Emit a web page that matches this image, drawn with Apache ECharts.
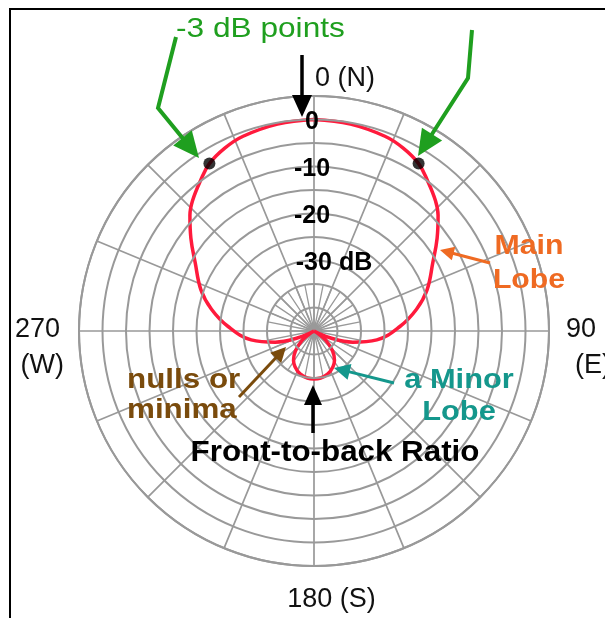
<!DOCTYPE html>
<html>
<head>
<meta charset="utf-8">
<script src="https://cdn.jsdelivr.net/npm/echarts@6/dist/echarts.min.js"></script>
<style>
  html, body { margin: 0; padding: 0; background: #fff; }
  #wrap { position: relative; width: 605px; height: 618px; overflow: hidden; }
  #chart { width: 605px; height: 618px; }
  #frame { position: absolute; left: 9px; top: 8px; width: 700px; height: 700px;
           border-left: 2px solid #000; border-top: 2px solid #000; pointer-events: none; }
</style>
</head>
<body>
<div id="wrap">
  <div id="chart"></div>
  <div id="frame"></div>
</div>
<script>
// antenna pattern: bearing (deg) and level (dB)
const patternAngles = [0, 10, 20, 26, 32, 37, 43, 47, 53, 60, 70, 78, 87, 98, 106, 113, 118, 123, 128, 137, 145, 152, 162, 172, 180,
  188, 198, 208, 215, 223, 232, 237, 242, 247, 254, 262, 273, 282, 290, 300, 307, 313, 317, 323, 328, 334, 340, 350, 360];
const patternDb = [0, -0.3, -0.9, -1.7, -3, -4.9, -7.1, -8.9, -12.2, -15.8, -19.4, -22.7, -26.7, -31.5, -36.4, -41.3, -45, -43.8, -41.8, -39.2, -37.4, -36.4, -35.4, -34.9, -34.8,
  -34.9, -35.4, -36.4, -37.4, -39.2, -41.8, -43.8, -45, -41.3, -36.4, -31.5, -26.7, -22.7, -19.4, -15.8, -12.2, -8.9, -7.1, -4.9, -3, -1.7, -0.9, -0.3, 0];

// -3 dB points
const halfPowerAngles = [32, 328];
const halfPowerDb = -3;

// radial scale
const dbMin = -45, dbMax = 5, dbStep = 5;
const radiusTickValues = [0, -10, -20, -30];
const radiusTickText = ['0', '-10', '-20', '-30 dB'];

// compass labels
const compassValues = [0, 90, 180, 270];
const compassText = ['0 (N)', '90 (E)', '180 (S)', '270 (W)'];

const FONT = '"Liberation Sans", Arial, sans-serif';
const cx = 314, cy = 331, R = 235;
const innerR = (-35 - dbMin) / (dbMax - dbMin) * R;

const chart = echarts.init(document.getElementById('chart'));

function arrow(pts, color, w, hl, hw) {
  const n = pts.length;
  const [x1, y1] = pts[n - 2], [x2, y2] = pts[n - 1];
  const L = Math.hypot(x2 - x1, y2 - y1), ux = (x2 - x1) / L, uy = (y2 - y1) / L;
  const bx = x2 - ux * hl, by = y2 - uy * hl;
  const shaft = pts.slice(0, n - 1).concat([[bx + ux * 2, by + uy * 2]]);
  return [
    { type: 'polyline', z: 100, shape: { points: shaft }, style: { stroke: color, lineWidth: w, fill: null } },
    { type: 'polygon', z: 100, shape: { points: [[x2, y2], [bx - uy * hw / 2, by + ux * hw / 2], [bx + uy * hw / 2, by - ux * hw / 2]] }, style: { fill: color } }
  ];
}

function label(text, x, y, color, size, weight, align, lh, sx) {
  return {
    type: 'text', z: 101, x: x, y: y, scaleX: sx || 1, scaleY: 1,
    style: { text: text, fill: color, font: weight + ' ' + size + 'px ' + FONT, align: align, verticalAlign: 'middle', lineHeight: lh || size }
  };
}

const green = '#1f9f1f', orange = '#ef6a22', brown = '#7a4b0c', teal = '#14978c';

const graphics = [].concat(
  arrow([[176, 37], [158, 108], [199, 158]], green, 4, 26, 24),
  arrow([[472, 30], [468, 78], [418, 156]], green, 4, 26, 24),
  arrow([[302, 55], [302, 117]], '#000', 3.5, 22, 20),
  arrow([[313, 433], [313, 385]], '#000', 3.5, 20, 18),
  arrow([[490, 263], [440, 250]], orange, 3, 14, 14),
  arrow([[239, 397], [286, 347]], brown, 3, 15, 15),
  arrow([[394, 383], [334, 368]], teal, 3, 16, 16),
  [
    label('-3 dB points', 176, 29, green, 28, 'normal', 'left', 28, 1.13),
    label('Main\nLobe', 529, 263, orange, 28, 'bold', 'center', 34, 1.08),
    label('nulls or\nminima', 127, 395, brown, 28, 'bold', 'left', 30, 1.12),
    label('a Minor\nLobe', 459, 396, teal, 28, 'bold', 'center', 32, 1.1),
    label('Front-to-back Ratio', 335, 453, '#000', 29, 'bold', 'center', 29, 1.08)
  ]
);

function compassLabel(v) {
  const i = compassValues.indexOf(v);
  if (i < 0) return '';
  const parts = compassText[i].split(' ');
  if (v === 0) return '{n|' + compassText[i] + '}';
  if (v === 180) return '{s|' + compassText[i] + '}';
  if (v === 90) return '{e1|' + parts[0] + '}\n{e2|' + parts[1] + '}';
  return '{w1|' + parts[0] + '}\n{w2|' + parts[1] + '}';
}

function radiusLabel(v) {
  const i = radiusTickValues.indexOf(v);
  if (i < 0) return '';
  return v === -30 ? '{d|' + radiusTickText[i] + '}' : '{r|' + radiusTickText[i] + '}';
}

const gridColor = '#999';
const cFont = { fontFamily: FONT, fontSize: 27, color: '#111' };

chart.setOption({
  animation: false,
  backgroundColor: '#fff',
  polar: [
    { center: [cx, cy], radius: [0, R] },
    { center: [cx, cy], radius: [0, innerR] }
  ],
  angleAxis: [
    {
      polarIndex: 0, type: 'value', min: 0, max: 360, interval: 22.5, startAngle: 90, clockwise: true,
      axisLine: { show: true, lineStyle: { color: gridColor, width: 2 } },
      axisTick: { show: false },
      splitLine: { show: true, lineStyle: { color: gridColor, width: 1.7 } },
      axisLabel: {
        show: true, margin: 4, formatter: compassLabel,
        rich: {
          n: Object.assign({ padding: [0, 0, 0, 62] }, cFont),
          s: Object.assign({ padding: [16, 0, 0, 35] }, cFont),
          e1: Object.assign({ padding: [34, 0, 0, 13] }, cFont),
          e2: Object.assign({ padding: [9, 0, 0, 22] }, cFont),
          w1: Object.assign({ padding: [34, 15, 0, 0] }, cFont),
          w2: Object.assign({ padding: [9, 11, 0, 0] }, cFont)
        }
      }
    },
    {
      polarIndex: 1, type: 'value', min: 0, max: 360, interval: 11.25, startAngle: 90, clockwise: true,
      axisLine: { show: false }, axisTick: { show: false }, axisLabel: { show: false },
      splitLine: { show: true, lineStyle: { color: gridColor, width: 1.3 } }
    }
  ],
  radiusAxis: [
    {
      polarIndex: 0, type: 'value', min: dbMin, max: dbMax, interval: dbStep, z: 10,
      axisLine: { show: false }, axisTick: { show: false },
      splitLine: { show: true, lineStyle: { color: gridColor, width: 2 } },
      axisLabel: {
        show: true, margin: 0, align: 'center', verticalAlign: 'middle', formatter: radiusLabel,
        rich: {
          r: { fontFamily: FONT, fontSize: 25, fontWeight: 'bold', color: '#000', padding: [5, 4, 0, 0] },
          d: { fontFamily: FONT, fontSize: 25, fontWeight: 'bold', color: '#000', padding: [5, 0, 0, 40] }
        }
      }
    },
    { polarIndex: 1, type: 'value', min: dbMin, max: -35, show: false }
  ],
  series: [
    {
      name: 'Pattern', type: 'line', coordinateSystem: 'polar', polarIndex: 0, z: 3,
      data: patternDb.map((d, i) => [d, patternAngles[i]]),
      smooth: 0.4, showSymbol: false,
      lineStyle: { color: '#ff1a3c', width: 3.5 }
    },
    {
      name: '-3 dB', type: 'scatter', coordinateSystem: 'polar', polarIndex: 0, z: 5,
      data: halfPowerAngles.map(a => [halfPowerDb, a]),
      symbolSize: 12, itemStyle: { color: '#000' }
    }
  ],
  graphic: { elements: graphics }
});
</script>
</body>
</html>
